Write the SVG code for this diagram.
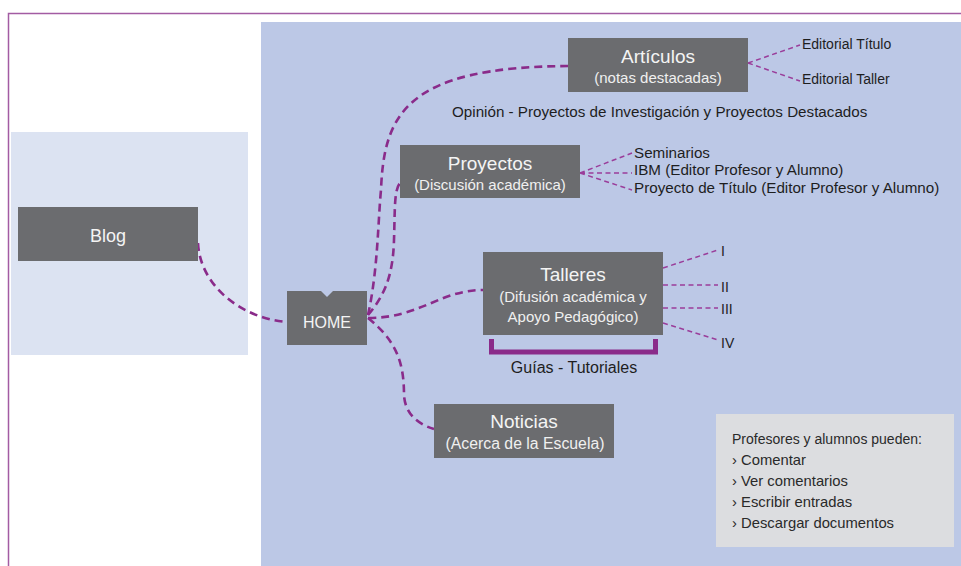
<svg xmlns="http://www.w3.org/2000/svg" width="961" height="566" viewBox="0 0 961 566">
<style>
text{font-family:"Liberation Sans",Arial,sans-serif}
.box{fill:#6b6c6f}
.t1{fill:#f4f4f4;font-size:19px;text-anchor:middle}
.t2{fill:#f0f0f0;font-size:15px;text-anchor:middle}
.lbl{fill:#1e1e1e;font-size:14px}
.lbl15{fill:#1e1e1e;font-size:15.2px}
.info{fill:#2a2a2a;font-size:14.8px}
.main{fill:none;stroke:#8a2b8a;stroke-width:2.6;stroke-dasharray:8 5}
.thin{fill:none;stroke:#9a3d9a;stroke-width:1.5;stroke-dasharray:5 3.5}
</style>
<rect x="0" y="0" width="961" height="566" fill="#ffffff"/>
<rect x="261" y="22" width="700" height="544" fill="#bcc8e6"/>
<rect x="11" y="132" width="237" height="223" fill="#dce3f2"/>
<path d="M961 13.5 H8.5 V566" fill="none" stroke="#a35ca3" stroke-width="1.5"/>

<g id="connectors">
<path class="main" d="M198 243 C200 285 240 318 287 322"/>
<path class="main" d="M368 315 C378 270 378 220 381 190 C384 115 405 67 568 66"/>
<path class="main" d="M368 315 C385 295 393 275 394 240 C395 210 394 190 400 183"/>
<path class="main" d="M368 318 C420 318 440 290 483 290"/>
<path class="main" d="M368 318 C395 340 404 360 404 395 C405 415 420 425 434 429"/>
<path class="thin" d="M748 63 L800 45 M748 63 L800 81"/>
<path class="thin" d="M580 173 L632 153 M580 173 L632 173 M580 173 L632 190"/>
<path class="thin" d="M663 268 L718 250 M663 285 L718 285 M663 308 L718 308 M663 323 L718 340"/>
<path d="M491.5 339 V352 H655.5 V339" fill="none" stroke="#8a2b8a" stroke-width="5"/>
</g>

<g id="blog">
<rect class="box" x="18" y="207" width="180" height="54"/>
<text class="t1" x="108" y="242" style="font-size:18px">Blog</text>
</g>

<g id="home">
<rect class="box" x="287" y="291" width="80" height="54"/>
<polygon points="321,291 327,297 333,291" fill="#bcc8e6"/>
<text class="t1" x="327" y="328" style="font-size:16px">HOME</text>
</g>

<g id="articulos">
<rect class="box" x="568" y="38" width="180" height="54"/>
<text class="t1" x="658" y="63">Artículos</text>
<text class="t2" x="658" y="83">(notas destacadas)</text>
</g>

<g id="articulos-labels">
<text class="lbl" x="802" y="49">Editorial Título</text>
<text class="lbl" x="802" y="84">Editorial Taller</text>
<text class="lbl15" x="452" y="117">Opinión - Proyectos de Investigación y Proyectos Destacados</text>
</g>

<g id="proyectos">
<rect class="box" x="400" y="145" width="180" height="53"/>
<text class="t1" x="490" y="170">Proyectos</text>
<text class="t2" x="490" y="190">(Discusión académica)</text>
</g>

<g id="proyectos-labels">
<text class="lbl15" x="634" y="158">Seminarios</text>
<text class="lbl15" x="634" y="175">IBM (Editor Profesor y Alumno)</text>
<text class="lbl15" x="634" y="193">Proyecto de Título (Editor Profesor y Alumno)</text>
</g>

<g id="talleres">
<rect class="box" x="483" y="252" width="180" height="83"/>
<text class="t1" x="573" y="281">Talleres</text>
<text class="t2" x="573" y="302">(Difusión académica y</text>
<text class="t2" x="573" y="322">Apoyo Pedagógico)</text>
</g>

<g id="talleres-labels">
<text class="lbl" x="721" y="256">I</text>
<text class="lbl" x="721" y="292">II</text>
<text class="lbl" x="721" y="314">III</text>
<text class="lbl" x="721" y="348">IV</text>
<text class="lbl" x="574" y="373" text-anchor="middle" style="font-size:16px">Guías - Tutoriales</text>
</g>

<g id="noticias">
<rect class="box" x="434" y="404" width="180" height="54"/>
<text class="t1" x="524" y="428">Noticias</text>
<text class="t2" x="525" y="449" style="font-size:15.8px">(Acerca de la Escuela)</text>
</g>

<g id="info">
<rect x="716" y="414" width="238" height="133" fill="#dcdde0"/>
<text class="info" x="732" y="444" style="font-size:14px">Profesores y alumnos pueden:</text>
<text class="info" x="732" y="465">› Comentar</text>
<text class="info" x="732" y="486">› Ver comentarios</text>
<text class="info" x="732" y="507">› Escribir entradas</text>
<text class="info" x="732" y="528">› Descargar documentos</text>
</g>
</svg>
